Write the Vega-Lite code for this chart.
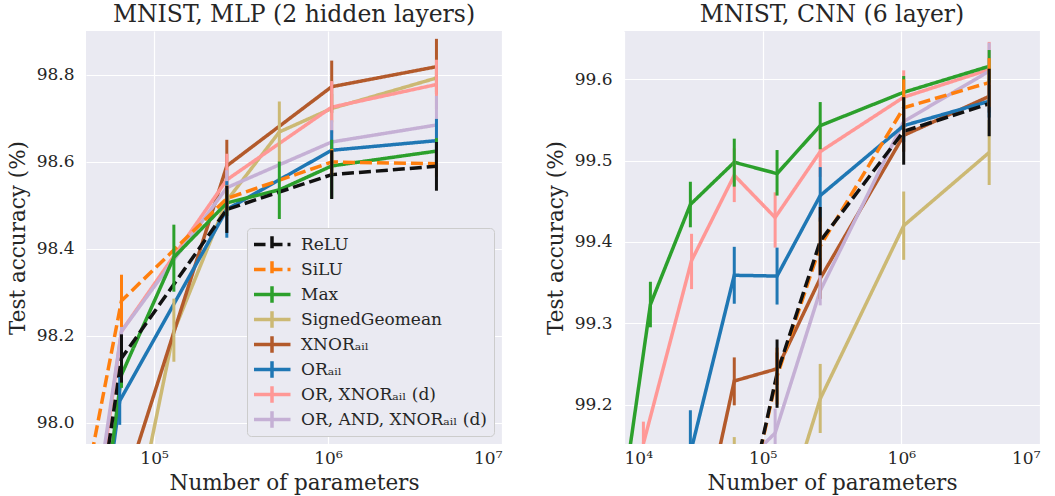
{
  "$schema": "https://vega.github.io/schema/vega-lite/v6.json",
  "background": "white",
  "padding": {"left": 7, "top": 2, "right": 5, "bottom": 5},
  "config": {
    "font": "DejaVu Serif, Liberation Serif, serif",
    "view": {"fill": "#eaeaf2", "stroke": null},
    "axis": {
      "grid": true, "gridColor": "#ffffff", "gridWidth": 1.2, "domain": false, "ticks": false,
      "labelFont": "DejaVu Serif, Liberation Serif, serif", "titleFont": "DejaVu Serif, Liberation Serif, serif",
      "labelFontSize": 17, "titleFontSize": 21.5, "labelColor": "#262626", "titleColor": "#262626",
      "titleFontWeight": "normal"
    },
    "axisY": {"labelPadding": 12, "titlePadding": 7},
    "axisX": {"labelPadding": 6, "titlePadding": 6},
    "legend": {"labelFont": "DejaVu Serif, Liberation Serif, serif"},
    "title": {"font": "DejaVu Serif, Liberation Serif, serif", "fontSize": 23.5, "fontWeight": "normal", "color": "#262626", "offset": 5}
  },
  "datasets": {
    "mlp": [
      {"s": "SignedGeomean", "p": 65000, "acc": 97.62, "lo": 97.62, "hi": 97.62},
      {"s": "SignedGeomean", "p": 130000, "acc": 98.21, "lo": 98.14, "hi": 98.285},
      {"s": "SignedGeomean", "p": 262000, "acc": 98.51, "lo": 98.49, "hi": 98.53},
      {"s": "SignedGeomean", "p": 525000, "acc": 98.668, "lo": 98.598, "hi": 98.738},
      {"s": "SignedGeomean", "p": 1050000, "acc": 98.722, "lo": 98.69, "hi": 98.755},
      {"s": "SignedGeomean", "p": 4200000, "acc": 98.792, "lo": 98.76, "hi": 98.825},
      {"s": "XNORₐᵢₗ", "p": 65000, "acc": 97.83, "lo": 97.83, "hi": 97.83},
      {"s": "XNORₐᵢₗ", "p": 262000, "acc": 98.59, "lo": 98.53, "hi": 98.65},
      {"s": "XNORₐᵢₗ", "p": 1050000, "acc": 98.772, "lo": 98.712, "hi": 98.832},
      {"s": "XNORₐᵢₗ", "p": 4200000, "acc": 98.818, "lo": 98.754, "hi": 98.882},
      {"s": "OR, XNORₐᵢₗ (d)", "p": 32500, "acc": 97.34, "lo": 97.34, "hi": 97.34},
      {"s": "OR, XNORₐᵢₗ (d)", "p": 65000, "acc": 98.21, "lo": 98.16, "hi": 98.26},
      {"s": "OR, XNORₐᵢₗ (d)", "p": 262000, "acc": 98.558, "lo": 98.498, "hi": 98.618},
      {"s": "OR, XNORₐᵢₗ (d)", "p": 1050000, "acc": 98.725, "lo": 98.665, "hi": 98.785},
      {"s": "OR, XNORₐᵢₗ (d)", "p": 4200000, "acc": 98.777, "lo": 98.72, "hi": 98.834},
      {"s": "OR, AND, XNORₐᵢₗ (d)", "p": 32500, "acc": 97.39, "lo": 97.39, "hi": 97.39},
      {"s": "OR, AND, XNORₐᵢₗ (d)", "p": 65000, "acc": 98.21, "lo": 98.145, "hi": 98.275},
      {"s": "OR, AND, XNORₐᵢₗ (d)", "p": 262000, "acc": 98.54, "lo": 98.5, "hi": 98.58},
      {"s": "OR, AND, XNORₐᵢₗ (d)", "p": 1050000, "acc": 98.645, "lo": 98.595, "hi": 98.695},
      {"s": "OR, AND, XNORₐᵢₗ (d)", "p": 4200000, "acc": 98.684, "lo": 98.617, "hi": 98.751},
      {"s": "ORₐᵢₗ", "p": 32500, "acc": 97.2, "lo": 97.2, "hi": 97.2},
      {"s": "ORₐᵢₗ", "p": 63500, "acc": 98.05, "lo": 97.995, "hi": 98.105},
      {"s": "ORₐᵢₗ", "p": 262000, "acc": 98.49, "lo": 98.425, "hi": 98.555},
      {"s": "ORₐᵢₗ", "p": 1050000, "acc": 98.626, "lo": 98.58, "hi": 98.672},
      {"s": "ORₐᵢₗ", "p": 4200000, "acc": 98.648, "lo": 98.598, "hi": 98.698},
      {"s": "Max", "p": 32500, "acc": 97.18, "lo": 97.18, "hi": 97.18},
      {"s": "Max", "p": 65000, "acc": 98.11, "lo": 98.08, "hi": 98.14},
      {"s": "Max", "p": 130000, "acc": 98.38, "lo": 98.301, "hi": 98.455},
      {"s": "Max", "p": 262000, "acc": 98.505, "lo": 98.475, "hi": 98.535},
      {"s": "Max", "p": 525000, "acc": 98.535, "lo": 98.468, "hi": 98.6},
      {"s": "Max", "p": 1050000, "acc": 98.59, "lo": 98.515, "hi": 98.65},
      {"s": "Max", "p": 4200000, "acc": 98.624, "lo": 98.594, "hi": 98.654},
      {"s": "SiLU", "p": 32500, "acc": 97.66, "lo": 97.66, "hi": 97.66},
      {"s": "SiLU", "p": 65000, "acc": 98.28, "lo": 98.22, "hi": 98.34},
      {"s": "SiLU", "p": 262000, "acc": 98.515, "lo": 98.485, "hi": 98.545},
      {"s": "SiLU", "p": 1050000, "acc": 98.599, "lo": 98.569, "hi": 98.629},
      {"s": "SiLU", "p": 4200000, "acc": 98.595, "lo": 98.565, "hi": 98.625},
      {"s": "ReLU", "p": 32500, "acc": 97.33, "lo": 97.33, "hi": 97.33},
      {"s": "ReLU", "p": 65000, "acc": 98.148, "lo": 98.092, "hi": 98.203},
      {"s": "ReLU", "p": 262000, "acc": 98.49, "lo": 98.436, "hi": 98.544},
      {"s": "ReLU", "p": 1050000, "acc": 98.57, "lo": 98.514, "hi": 98.626},
      {"s": "ReLU", "p": 4200000, "acc": 98.589, "lo": 98.533, "hi": 98.645}
    ],
    "cnn": [
      {"s": "SignedGeomean", "p": 62400, "acc": 99.12, "lo": 99.08, "hi": 99.16},
      {"s": "SignedGeomean", "p": 127000, "acc": 99.036, "lo": 99.036, "hi": 99.036},
      {"s": "SignedGeomean", "p": 260000, "acc": 99.207, "lo": 99.165, "hi": 99.25},
      {"s": "SignedGeomean", "p": 1040000, "acc": 99.42, "lo": 99.378, "hi": 99.462},
      {"s": "SignedGeomean", "p": 4300000, "acc": 99.51, "lo": 99.47, "hi": 99.55},
      {"s": "XNORₐᵢₗ", "p": 30000, "acc": 98.98, "lo": 98.98, "hi": 98.98},
      {"s": "XNORₐᵢₗ", "p": 62400, "acc": 99.229, "lo": 99.199, "hi": 99.258},
      {"s": "XNORₐᵢₗ", "p": 127000, "acc": 99.244, "lo": 99.224, "hi": 99.264},
      {"s": "XNORₐᵢₗ", "p": 260000, "acc": 99.355, "lo": 99.33, "hi": 99.38},
      {"s": "XNORₐᵢₗ", "p": 1040000, "acc": 99.531, "lo": 99.511, "hi": 99.551},
      {"s": "XNORₐᵢₗ", "p": 4300000, "acc": 99.579, "lo": 99.559, "hi": 99.599},
      {"s": "OR, XNORₐᵢₗ (d)", "p": 13800, "acc": 99.152, "lo": 99.125, "hi": 99.179},
      {"s": "OR, XNORₐᵢₗ (d)", "p": 30700, "acc": 99.377, "lo": 99.342, "hi": 99.41},
      {"s": "OR, XNORₐᵢₗ (d)", "p": 62400, "acc": 99.482, "lo": 99.449, "hi": 99.515},
      {"s": "OR, XNORₐᵢₗ (d)", "p": 123000, "acc": 99.43, "lo": 99.393, "hi": 99.461},
      {"s": "OR, XNORₐᵢₗ (d)", "p": 260000, "acc": 99.511, "lo": 99.48, "hi": 99.54},
      {"s": "OR, XNORₐᵢₗ (d)", "p": 1040000, "acc": 99.578, "lo": 99.545, "hi": 99.611},
      {"s": "OR, XNORₐᵢₗ (d)", "p": 4300000, "acc": 99.612, "lo": 99.578, "hi": 99.646},
      {"s": "OR, AND, XNORₐᵢₗ (d)", "p": 62400, "acc": 99.115, "lo": 99.115, "hi": 99.115},
      {"s": "OR, AND, XNORₐᵢₗ (d)", "p": 123000, "acc": 99.165, "lo": 99.135, "hi": 99.195},
      {"s": "OR, AND, XNORₐᵢₗ (d)", "p": 260000, "acc": 99.34, "lo": 99.322, "hi": 99.37},
      {"s": "OR, AND, XNORₐᵢₗ (d)", "p": 1040000, "acc": 99.548, "lo": 99.528, "hi": 99.568},
      {"s": "OR, AND, XNORₐᵢₗ (d)", "p": 4300000, "acc": 99.61, "lo": 99.575, "hi": 99.645},
      {"s": "ORₐᵢₗ", "p": 30100, "acc": 99.14, "lo": 99.087, "hi": 99.193},
      {"s": "ORₐᵢₗ", "p": 62400, "acc": 99.359, "lo": 99.324, "hi": 99.394},
      {"s": "ORₐᵢₗ", "p": 127000, "acc": 99.358, "lo": 99.323, "hi": 99.393},
      {"s": "ORₐᵢₗ", "p": 260000, "acc": 99.457, "lo": 99.425, "hi": 99.492},
      {"s": "ORₐᵢₗ", "p": 1040000, "acc": 99.543, "lo": 99.523, "hi": 99.563},
      {"s": "ORₐᵢₗ", "p": 4300000, "acc": 99.573, "lo": 99.553, "hi": 99.593},
      {"s": "Max", "p": 7700, "acc": 98.96, "lo": 98.96, "hi": 98.96},
      {"s": "Max", "p": 15500, "acc": 99.323, "lo": 99.295, "hi": 99.351},
      {"s": "Max", "p": 30100, "acc": 99.446, "lo": 99.418, "hi": 99.474},
      {"s": "Max", "p": 62400, "acc": 99.498, "lo": 99.468, "hi": 99.527},
      {"s": "Max", "p": 127000, "acc": 99.484, "lo": 99.457, "hi": 99.513},
      {"s": "Max", "p": 260000, "acc": 99.543, "lo": 99.514, "hi": 99.572},
      {"s": "Max", "p": 1040000, "acc": 99.584, "lo": 99.564, "hi": 99.604},
      {"s": "Max", "p": 4300000, "acc": 99.616, "lo": 99.596, "hi": 99.636},
      {"s": "SiLU", "p": 62400, "acc": 99.0, "lo": 99.0, "hi": 99.0},
      {"s": "SiLU", "p": 127000, "acc": 99.235, "lo": 99.2, "hi": 99.27},
      {"s": "SiLU", "p": 260000, "acc": 99.395, "lo": 99.36, "hi": 99.43},
      {"s": "SiLU", "p": 1040000, "acc": 99.565, "lo": 99.53, "hi": 99.6},
      {"s": "SiLU", "p": 4300000, "acc": 99.596, "lo": 99.566, "hi": 99.626},
      {"s": "ReLU", "p": 62400, "acc": 99.0, "lo": 99.0, "hi": 99.0},
      {"s": "ReLU", "p": 127000, "acc": 99.238, "lo": 99.196, "hi": 99.28},
      {"s": "ReLU", "p": 260000, "acc": 99.401, "lo": 99.359, "hi": 99.443},
      {"s": "ReLU", "p": 1040000, "acc": 99.536, "lo": 99.495, "hi": 99.578},
      {"s": "ReLU", "p": 4300000, "acc": 99.57, "lo": 99.53, "hi": 99.613}
    ]
  },
  "spacing": 122,
  "bounds": "flush",
  "resolve": {
    "scale": {"color": "independent", "strokeDash": "independent"},
    "legend": {"color": "independent", "strokeDash": "independent"}
  },
  "hconcat": [
    {
      "title": "MNIST, MLP (2 hidden layers)",
      "width": 416,
      "height": 413,
      "data": {"name": "mlp"},
      "encoding": {
        "x": {
          "field": "p", "type": "quantitative",
          "scale": {"type": "log", "domain": [40640, 10000000], "nice": false},
          "axis": {
            "title": "Number of parameters",
            "values": [100000, 1000000, 10000000],
            "labelExpr": "datum.value >= 5000000 ? '10⁷' : datum.value >= 500000 ? '10⁶' : datum.value >= 50000 ? '10⁵' : '10⁴'"
          }
        },
        "color": {
          "field": "s", "type": "nominal",
          "scale": {
            "domain": ["ReLU", "SiLU", "Max", "SignedGeomean", "XNORₐᵢₗ", "ORₐᵢₗ", "OR, XNORₐᵢₗ (d)", "OR, AND, XNORₐᵢₗ (d)"],
            "range": ["#111111", "#ff7f0e", "#2ca02c", "#ccb974", "#b35a2b", "#1f77b4", "#ff9896", "#c5b0d5"]
          },
          "legend": {
            "title": null, "orient": "bottom-right", "offset": 8,
            "fillColor": "#eaeaf2", "strokeColor": "#cccccc", "cornerRadius": 4, "padding": 7,
            "labelFont": "DejaVu Serif, Liberation Serif, serif", "labelFontSize": 17, "labelColor": "#262626", "labelLimit": 400,
            "symbolType": "M-2,0H2M0,-0.9V0.9", "symbolSize": 342, "symbolStrokeWidth": 3.5,
            "symbolOffset": 7, "labelOffset": 18, "rowPadding": 6, "clipHeight": 19
          }
        }
      },
      "layer": [
        {
          "mark": {"type": "line", "clip": true, "strokeWidth": 3.5},
          "encoding": {
            "y": {
              "field": "acc", "type": "quantitative",
              "scale": {"domain": [97.951, 98.9], "nice": false, "zero": false},
              "axis": {"title": "Test accuracy (%)", "values": [98.0, 98.2, 98.4, 98.6, 98.8], "format": ".1f"}
            },
            "strokeDash": {
              "field": "s", "type": "nominal",
              "scale": {
                "domain": ["ReLU", "SiLU", "Max", "SignedGeomean", "XNORₐᵢₗ", "ORₐᵢₗ", "OR, XNORₐᵢₗ (d)", "OR, AND, XNORₐᵢₗ (d)"],
                "range": [[12, 5], [12, 5], [1, 0], [1, 0], [1, 0], [1, 0], [1, 0], [1, 0]]
              },
              "legend": {
                "title": null, "orient": "bottom-right", "offset": 8,
                "fillColor": "#eaeaf2", "strokeColor": "#cccccc", "cornerRadius": 4, "padding": 7,
                "labelFont": "DejaVu Serif, Liberation Serif, serif", "labelFontSize": 17, "labelColor": "#262626", "labelLimit": 400,
                "symbolType": "M-2,0H2M0,-0.9V0.9", "symbolSize": 342, "symbolStrokeWidth": 3.5,
                "symbolOffset": 7, "labelOffset": 18, "rowPadding": 6, "clipHeight": 19
              }
            }
          }
        },
        {
          "mark": {"type": "rule", "clip": true, "strokeWidth": 3},
          "encoding": {
            "y": {"field": "lo", "type": "quantitative", "title": "Test accuracy (%)"},
            "y2": {"field": "hi"}
          }
        }
      ]
    },
    {
      "title": "MNIST, CNN (6 layer)",
      "width": 416,
      "height": 413,
      "data": {"name": "cnn"},
      "encoding": {
        "x": {
          "field": "p", "type": "quantitative",
          "scale": {"type": "log", "domain": [10000, 10000000], "nice": false},
          "axis": {
            "title": "Number of parameters",
            "values": [10000, 100000, 1000000, 10000000],
            "labelExpr": "datum.value >= 5000000 ? '10⁷' : datum.value >= 500000 ? '10⁶' : datum.value >= 50000 ? '10⁵' : '10⁴'"
          }
        },
        "color": {
          "field": "s", "type": "nominal",
          "scale": {
            "domain": ["ReLU", "SiLU", "Max", "SignedGeomean", "XNORₐᵢₗ", "ORₐᵢₗ", "OR, XNORₐᵢₗ (d)", "OR, AND, XNORₐᵢₗ (d)"],
            "range": ["#111111", "#ff7f0e", "#2ca02c", "#ccb974", "#b35a2b", "#1f77b4", "#ff9896", "#c5b0d5"]
          },
          "legend": null
        }
      },
      "layer": [
        {
          "mark": {"type": "line", "clip": true, "strokeWidth": 3.5},
          "encoding": {
            "y": {
              "field": "acc", "type": "quantitative",
              "scale": {"domain": [99.1515, 99.6594], "nice": false, "zero": false},
              "axis": {"title": "Test accuracy (%)", "values": [99.2, 99.3, 99.4, 99.5, 99.6], "format": ".1f"}
            },
            "strokeDash": {
              "field": "s", "type": "nominal",
              "scale": {
                "domain": ["ReLU", "SiLU", "Max", "SignedGeomean", "XNORₐᵢₗ", "ORₐᵢₗ", "OR, XNORₐᵢₗ (d)", "OR, AND, XNORₐᵢₗ (d)"],
                "range": [[12, 5], [12, 5], [1, 0], [1, 0], [1, 0], [1, 0], [1, 0], [1, 0]]
              },
              "legend": null
            }
          }
        },
        {
          "mark": {"type": "rule", "clip": true, "strokeWidth": 3},
          "encoding": {
            "y": {"field": "lo", "type": "quantitative", "title": "Test accuracy (%)"},
            "y2": {"field": "hi"}
          }
        }
      ]
    }
  ]
}
